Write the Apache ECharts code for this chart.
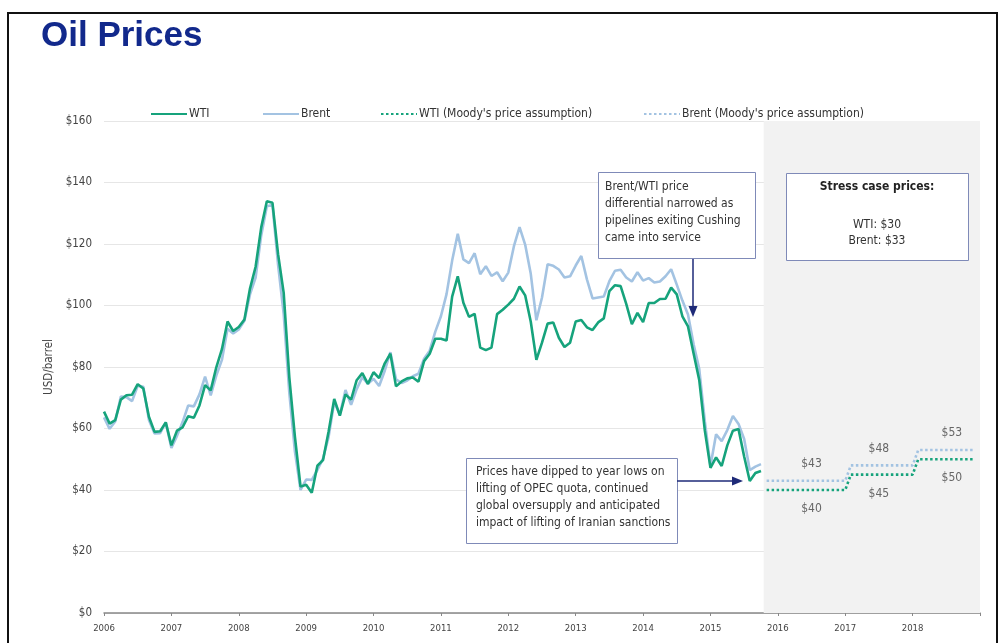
<!DOCTYPE html>
<html>
<head>
<meta charset="utf-8">
<script src="https://cdn.jsdelivr.net/npm/echarts@6/dist/echarts.min.js"></script>
<style>
html,body{margin:0;padding:0;background:#fff;}
#chart{width:1003px;height:643px;}
</style>
</head>
<body>
<div id="chart"></div>
<script>
// ---- data ----
const firstMonth = '2006-01';
const wti = [
 65.5,61.6,62.7,69.4,70.8,71.0,74.4,73.0,63.8,58.9,59.1,62.0,
 54.5,59.3,60.4,64.0,63.5,67.5,74.1,72.4,79.9,85.8,94.8,91.7,
 93.0,95.4,105.5,112.6,125.4,133.9,133.4,116.7,104.1,76.6,57.3,41.1,
 41.7,39.1,47.9,49.7,59.0,69.6,64.2,71.1,69.4,75.7,78.0,74.5,
 78.3,76.4,81.2,84.3,73.7,75.3,76.3,76.6,75.2,81.9,84.3,89.2,
 89.2,88.6,102.9,109.5,100.9,96.3,97.3,86.3,85.5,86.3,97.2,98.6,
 100.3,102.2,106.2,103.3,94.7,82.3,87.9,94.1,94.5,89.5,86.5,87.9,
 94.8,95.3,92.9,92.0,94.5,95.8,104.7,106.6,106.3,100.5,93.9,97.6,
 94.6,100.8,100.8,102.1,102.2,105.8,103.6,96.5,93.2,84.4,75.8,59.3,
 47.2,50.6,47.8,54.5,59.3,59.8,50.9,42.9,45.5,46.2
];
const brent = [
 63.6,59.9,62.3,70.4,70.2,68.9,73.9,73.6,62.8,58.4,58.5,62.0,
 53.7,57.6,62.1,67.5,67.2,71.1,76.9,70.8,77.2,82.3,92.4,90.9,
 92.2,95.0,103.6,109.1,122.8,132.3,132.7,113.2,97.2,71.6,52.5,40.0,
 43.4,43.3,46.5,50.2,57.3,68.6,64.4,72.5,67.7,72.8,76.7,74.5,
 76.2,73.8,78.8,84.8,76.0,74.8,75.6,77.0,77.8,82.7,85.3,91.5,
 96.5,103.7,114.6,123.3,115.0,113.8,117.0,110.2,112.8,109.6,110.8,107.9,
 110.7,119.3,125.5,119.8,110.3,95.2,102.6,113.4,112.9,111.7,109.1,109.5,
 113.0,116.1,108.5,102.3,102.6,102.9,107.9,111.3,111.6,109.1,107.8,110.8,
 108.1,108.9,107.5,107.8,109.5,111.8,106.8,101.6,97.1,87.4,79.4,62.3,
 47.8,58.1,55.9,59.5,64.1,61.5,56.6,46.5,47.6,48.4
];
const assumptionDates = ['2015-11','2017-01','2017-02','2018-01','2018-02','2018-12'];
const wtiAssumption   = [40,40,45,45,50,50];
const brentAssumption = [43,43,48,48,53,53];
// labels of assumption levels: [date, value, text]
const wtiLabels   = [['2016-07',40,'$40'],['2017-07',45,'$45'],['2018-08',50,'$50']];
const brentLabels = [['2016-07',43,'$43'],['2017-07',48,'$48'],['2018-08',53,'$53']];
const forecastStart = '2015-10';
const yearLabels = [2006,2007,2008,2009,2010,2011,2012,2013,2014,2015,2016,2017,2018];
const seriesNames = ['WTI','Brent',"WTI (Moody's price assumption)","Brent (Moody's price assumption)"];

// ---- helpers ----
function ym(s){ const p=s.split('-'); return +p[0] + (+p[1]-1)/12; }
function monthSeries(vals){ const s=ym(firstMonth); return vals.map((v,i)=>[s+i/12, v]); }
function pairs(dates, vals){ return dates.map((d,i)=>[ym(d), vals[i]]); }

const GREEN = '#16a37c';
const BLUE = '#a3c3e2';
const FONT = "'Liberation Sans Narrow','DejaVu Sans Condensed',sans-serif";
const NAVY = '#1e2a78';
const BOXC = '#7f8ab8';

const chart = echarts.init(document.getElementById('chart'));

function lbl(arr, above){
  return arr.map(a=>({
    coord:[ym(a[0]), a[1]],
    symbol:'circle', symbolSize:1, itemStyle:{color:'rgba(0,0,0,0)'},
    label:{show:true, formatter:a[2], color:'#666', fontSize:12, fontFamily:FONT,
      position:'inside', offset:[0, above? -17 : 19]}
  }));
}

const legendBase = {itemWidth:36, itemHeight:10, itemGap:0, top:103,
  itemStyle:{opacity:0},
  textStyle:{fontFamily:FONT, fontSize:12, color:'#333', padding:[0,0,0,-3]}};

const option = {
  animation:false,
  backgroundColor:'#fff',
  textStyle:{fontFamily:FONT},
  title:{text:'Oil Prices', left:36, top:14,
    textStyle:{fontFamily:'Liberation Sans, Arial, sans-serif', fontWeight:'bold', fontSize:35, color:'#12298c'}},
  legend:[
    {data:[seriesNames[0]], left:145},
    {data:[seriesNames[1]], left:257},
    {data:[seriesNames[2]], left:375},
    {data:[seriesNames[3]], left:638}
  ].map(l=>Object.assign({}, legendBase, l)),
  grid:{left:104, right:23, top:121, bottom:30},
  xAxis:{type:'value', min:2006, max:2019, interval:1,
    axisLine:{lineStyle:{color:'#888', width:1.5}},
    axisTick:{show:true, length:3, lineStyle:{color:'#888'}},
    splitLine:{show:false},
    axisLabel:{color:'#444', fontSize:9.5, fontFamily:FONT, margin:11,
      formatter:v=> yearLabels.indexOf(v)>=0 ? String(v) : ''}},
  yAxis:{type:'value', min:0, max:160, interval:20,
    name:'USD/barrel', nameLocation:'middle', nameGap:48,
    nameTextStyle:{color:'#444', fontSize:11.5, fontFamily:FONT},
    axisLine:{show:false}, axisTick:{show:false},
    splitLine:{lineStyle:{color:'#e6e6e6', width:1}},
    axisLabel:{color:'#444', fontSize:11.5, fontFamily:FONT, margin:12, formatter:v=>'$'+v}},
  series:[
    {name:seriesNames[0], type:'line', data:monthSeries(wti), symbol:'none', z:3,
     lineStyle:{color:GREEN, width:2.6}, itemStyle:{color:GREEN},
     markArea:{silent:true, itemStyle:{color:'#f2f2f2'},
       data:[[{coord:[ym(forecastStart)+0.04, 0]},{coord:[2019, 161]}]]}},
    {name:seriesNames[1], type:'line', data:monthSeries(brent), symbol:'none', z:2,
     lineStyle:{color:BLUE, width:2.6}, itemStyle:{color:BLUE}},
    {name:seriesNames[2], type:'line', data:pairs(assumptionDates, wtiAssumption), symbol:'none', z:3,
     lineStyle:{color:GREEN, width:2.6, type:[2.5,2.5]}, itemStyle:{color:GREEN},
     markPoint:{data:lbl(wtiLabels,false)}},
    {name:seriesNames[3], type:'line', data:pairs(assumptionDates, brentAssumption), symbol:'none', z:3,
     lineStyle:{color:BLUE, width:2.6, type:[2.5,2.5]}, itemStyle:{color:BLUE},
     markPoint:{data:lbl(brentLabels,true)}}
  ],
  graphic:[
    // outer frame
    {type:'rect', shape:{x:8, y:13, width:989, height:640}, style:{fill:null, stroke:'#111', lineWidth:2}, silent:true, z:100},
    // box 1
    {type:'rect', shape:{x:598.5, y:172.5, width:157, height:86}, style:{fill:'#fff', stroke:BOXC, lineWidth:1}, z:50},
    {type:'text', left:605, top:178, z:51, style:{text:'Brent/WTI price\ndifferential narrowed as\npipelines exiting Cushing\ncame into service',
      font:"12px 'Liberation Sans Narrow','DejaVu Sans Condensed',sans-serif", fill:'#333', lineHeight:17}},
    {type:'line', shape:{x1:693, y1:259, x2:693, y2:308}, style:{stroke:NAVY, lineWidth:1.5}, z:50},
    {type:'polygon', shape:{points:[[688.5,306],[697.5,306],[693,317]]}, style:{fill:NAVY}, z:50},
    // box 2
    {type:'rect', shape:{x:786.5, y:173.5, width:182, height:87}, style:{fill:'#fff', stroke:BOXC, lineWidth:1}, z:50},
    {type:'text', x:877, y:181, z:51, style:{text:'Stress case prices:', align:'center',
      font:"bold 12px 'Liberation Sans Narrow','DejaVu Sans Condensed',sans-serif", fill:'#222'}},
    {type:'text', x:877, y:217, z:51, style:{text:'WTI: $30\nBrent: $33', align:'center',
      font:"12px 'Liberation Sans Narrow','DejaVu Sans Condensed',sans-serif", fill:'#333', lineHeight:16}},
    // box 3
    {type:'rect', shape:{x:466.5, y:458.5, width:211, height:85}, style:{fill:'#fff', stroke:BOXC, lineWidth:1}, z:50},
    {type:'text', left:476, top:463, z:51, style:{text:'Prices have dipped to year lows on\nlifting of OPEC quota, continued\nglobal oversupply and anticipated\nimpact of lifting of Iranian sanctions',
      font:"12px 'Liberation Sans Narrow','DejaVu Sans Condensed',sans-serif", fill:'#333', lineHeight:17}},
    {type:'line', shape:{x1:677, y1:481, x2:734, y2:481}, style:{stroke:NAVY, lineWidth:1.5}, z:50},
    {type:'polygon', shape:{points:[[732,476.5],[732,485.5],[743,481]]}, style:{fill:NAVY}, z:50}
  ]
};
chart.setOption(option);
</script>
</body>
</html>
